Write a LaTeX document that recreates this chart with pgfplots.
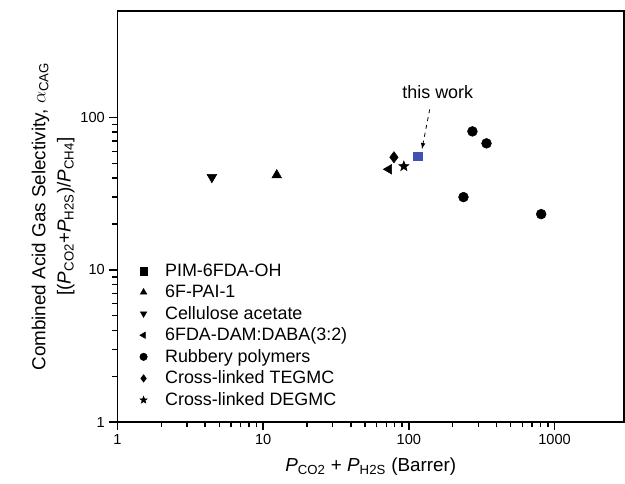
\documentclass[border=0pt]{standalone}
\usepackage{pgfplots}
\pgfplotsset{compat=1.18}
\usepackage{fontspec}
\setmainfont{Liberation Sans}
\definecolor{workblue}{RGB}{63,81,181}
\pgfdeclareplotmark{fstar}{%
  \pgfpathmoveto{\pgfpointpolar{90}{\pgfplotmarksize}}%
  \pgfpathlineto{\pgfpointpolar{126}{0.42\pgfplotmarksize}}%
  \pgfpathlineto{\pgfpointpolar{162}{\pgfplotmarksize}}%
  \pgfpathlineto{\pgfpointpolar{198}{0.42\pgfplotmarksize}}%
  \pgfpathlineto{\pgfpointpolar{234}{\pgfplotmarksize}}%
  \pgfpathlineto{\pgfpointpolar{270}{0.42\pgfplotmarksize}}%
  \pgfpathlineto{\pgfpointpolar{306}{\pgfplotmarksize}}%
  \pgfpathlineto{\pgfpointpolar{342}{0.42\pgfplotmarksize}}%
  \pgfpathlineto{\pgfpointpolar{18}{\pgfplotmarksize}}%
  \pgfpathlineto{\pgfpointpolar{54}{0.42\pgfplotmarksize}}%
  \pgfpathclose
  \pgfusepathqfillstroke
}
\begin{document}
\begin{tikzpicture}
\begin{axis}[
  scale only axis,
  width=382pt, height=310pt,
  xmode=log, ymode=log,
  xmin=1, xmax=3000, ymin=1, ymax=500,
  xtick pos=bottom, ytick pos=left,
  axis line style={line width=1.3pt},
  every major tick/.append style={black, line width=1.1pt, major tick length=6pt},
  every minor tick/.append style={black, line width=1.1pt, minor tick length=4pt},
  tick align=outside,
  xtick={1,10,100,1000}, ytick={1,10,100},
  xticklabels={\textrm{1},\textrm{10},\textrm{100},\textrm{1000}},
  yticklabels={\textrm{1},\textrm{10},\textrm{100}},
  tick label style={font=\fontsize{11}{13}\selectfont},
  xlabel={\textit{P}\textsubscript{CO2} + \textit{P}\textsubscript{H2S} (Barrer)},
  xlabel style={font=\fontsize{14.2}{16}\selectfont, yshift=-3pt},
  ylabel={Combined Acid Gas Selectivity, $\alpha$\textsubscript{CAG}\\[2pt][(\textit{P}\textsubscript{CO2}+\textit{P}\textsubscript{H2S})/\textit{P}\textsubscript{CH4}]},
  ylabel style={font=\fontsize{14.2}{17}\selectfont, align=center, yshift=-2.5pt},
  legend style={draw=none, fill=none, font=\fontsize{13.5}{16}\selectfont,
    at={(0.04,0.392)}, anchor=north west, row sep=1pt, inner sep=0pt},
  legend cell align=left,
  legend image code/.code={\path[draw=none,fill=none] (-0.15cm,0) -- (0.5cm,0);
    \draw[#1, mark size=2.8pt] plot coordinates {(0cm,0cm)};},
]
\addlegendimage{only marks, mark=square*, black}
\addlegendentry{PIM-6FDA-OH}
\addplot[only marks, mark=square*, mark options={fill=workblue, draw=workblue}, mark size=3.3pt, forget plot]
  coordinates {(115,55.6)};
\addplot[only marks, mark=triangle*, black, mark size=4.2pt]
  coordinates {(12.4,41.8)};
\addlegendentry{6F-PAI-1}
\addplot[only marks, mark=triangle*, black, mark size=4.2pt, mark options={rotate=180}]
  coordinates {(4.45,40.5)};
\addlegendentry{Cellulose acetate}
\addplot[only marks, mark=triangle*, black, mark size=4.2pt, mark options={rotate=90}]
  coordinates {(73,45.7)};
\addlegendentry{6FDA-DAM:DABA(3:2)}
\addplot[only marks, mark=*, black, mark size=3.7pt]
  coordinates {(273,81) (341,67.6) (237,30) (809,23.2)};
\addlegendentry{Rubbery polymers}
\addplot[only marks, mark=diamond*, black, mark size=4.2pt]
  coordinates {(79,54.8)};
\addlegendentry{Cross-linked TEGMC}
\addplot[only marks, mark=fstar, black, mark size=4pt]
  coordinates {(92.4,47.8)};
\addlegendentry{Cross-linked DEGMC}
\node[font=\fontsize{13.5}{15}\selectfont] at (axis cs:158,146) {this work};
\draw[dashed, -latex, line width=0.6pt] (axis cs:139,113) -- (axis cs:123,62);
\end{axis}
\path ([xshift=-88.5pt,yshift=-46.5pt]current axis.south west) -- ([yshift=8.25pt]current axis.north east);
\end{tikzpicture}
\end{document}
